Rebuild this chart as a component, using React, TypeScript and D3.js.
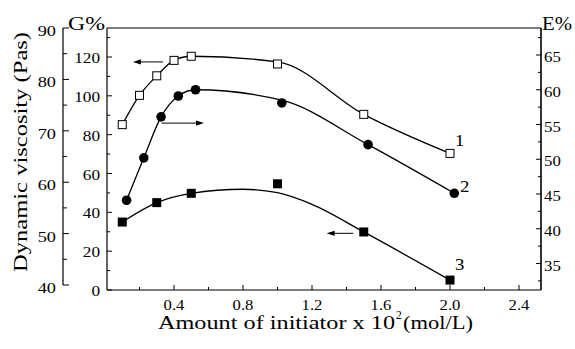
import React from "react";
import * as d3 from "d3";

// Amount of initiator (x 10^2 mol/L)
const amount = [0.1, 0.2, 0.3, 0.4, 0.5, 1.0, 1.5, 2.0];
const amountE = [0.125, 0.225, 0.325, 0.425, 0.525, 1.025, 1.525, 2.025];
const amount3 = [0.1, 0.3, 0.5, 1.0, 1.5, 2.0];

// Series 1: dynamic viscosity (Pas)
const viscosity = [71.2, 76.9, 80.7, 83.7, 84.5, 83.0, 73.2, 65.6];
// Series 2: grafting efficiency E%
const efficiency = [44.1, 50.2, 56.1, 59.1, 60.0, 58.1, 52.1, 45.1];
// Series 3: grafting percentage G%
const grafting = [35.0, 45.0, 49.8, 54.7, 29.9, 5.1];

// Smoothed trend lines [x, y]
const fitViscosity: [number, number][] = [
  [0.1, 71.2], [0.2, 76.9], [0.3, 80.7], [0.4, 83.7], [0.5, 84.5],
  [1.0, 83.4], [1.5, 73.2], [2.0, 65.6],
];
const fitEfficiency: [number, number][] = [
  [0.125, 44.1], [0.225, 50.2], [0.325, 56.1], [0.425, 59.1], [0.525, 60.0],
  [1.025, 58.5], [1.525, 52.1], [2.025, 45.1],
];
const fitGrafting: [number, number][] = [
  [0.1, 35.0], [0.3, 45.0], [0.5, 49.8], [0.8, 51.9], [1.0, 50.1],
  [1.2, 44.1], [1.5, 29.9], [2.0, 5.1],
];

const xTicks = [0.4, 0.8, 1.2, 1.6, 2.0, 2.4];
const xMinor = [0.2, 0.6, 1.0, 1.4, 1.8, 2.2];
const vTicks = [40, 50, 60, 70, 80, 90];
const vMinor = [45, 55, 65, 75, 85];
const gTicks = [0, 20, 40, 60, 80, 100, 120];
const gMinor = [10, 30, 50, 70, 90, 110, 130];
const eTicks = [35, 40, 45, 50, 55, 60, 65];
const eMinor = [32.5, 37.5, 42.5, 47.5, 52.5, 57.5, 62.5, 67.5];

const W = 575;
const H = 349;
const L = 107;
const R = 541;
const T = 28;
const B = 290;
const VX = 63;
const FONT = '"Liberation Serif", "Times New Roman", Times, serif';

const x = d3.scaleLinear().domain([0, 2.4]).range([105, 519]);
const yV = d3.scaleLinear().domain([40, 90]).range([285, 28]);
const yG = d3.scaleLinear().domain([0, 120]).range([290, 57]);
const yE = d3.scaleLinear().domain([35, 65]).range([263.5, 55]);

const curve = d3.curveMonotoneX;

type TxtProps = {
  x: number;
  y: number;
  size: number;
  sx?: number;
  anchor?: "start" | "middle" | "end";
  children: React.ReactNode;
};

// Text drawn with a horizontal stretch, as the typeface in this figure is wide
function Txt({ x, y, size, sx = 1.15, anchor = "start", children }: TxtProps) {
  return (
    <text
      transform={`translate(${x},${y}) scale(${sx},1)`}
      textAnchor={anchor}
      fontSize={size}
      style={{ fontFamily: FONT }}
      fill="#000"
    >
      {children}
    </text>
  );
}

function Arrow({ x1, x2, y }: { x1: number; x2: number; y: number }) {
  const dir = x2 > x1 ? 1 : -1;
  const hl = 8;
  const hw = 2.6;
  return (
    <g>
      <line x1={x1} y1={y} x2={x2 - dir * hl} y2={y} stroke="#000" strokeWidth={1} />
      <path
        d={`M${x2},${y} L${x2 - dir * hl},${y - hw} L${x2 - dir * hl},${y + hw} Z`}
        fill="#000"
      />
    </g>
  );
}

export default function App() {
  const lineV = d3.line<[number, number]>().x((d) => x(d[0])).y((d) => yV(d[1])).curve(curve);
  const lineE = d3.line<[number, number]>().x((d) => x(d[0])).y((d) => yE(d[1])).curve(curve);
  const lineG = d3.line<[number, number]>().x((d) => x(d[0])).y((d) => yG(d[1])).curve(curve);
  const sq = 8;

  return (
    <svg
      width={W}
      height={H}
      style={{ position: "absolute", left: 0, top: 0, background: "#fff", fontFamily: FONT }}
    >
      <rect width={W} height={H} fill="#fff" />

      {/* frame */}
      <g stroke="#000" strokeWidth={1.2} fill="none">
        <line x1={L} y1={T} x2={R} y2={T} />
        <line x1={L} y1={T} x2={L} y2={B} />
        <line x1={L} y1={B} x2={R} y2={B} />
        <line x1={R} y1={T} x2={R} y2={B} strokeWidth={1.6} />
        <line x1={VX} y1={yV(90)} x2={VX} y2={yV(40)} />
      </g>

      {/* x axis */}
      {xTicks.map((t) => (
        <g key={"xt" + t}>
          <line x1={x(t)} x2={x(t)} y1={B} y2={B - 5} stroke="#000" />
          <Txt x={x(t)} y={309.5} size={14.5} anchor="middle">
            {t.toFixed(1)}
          </Txt>
        </g>
      ))}
      {xMinor.map((t) => (
        <line key={"xm" + t} x1={x(t)} x2={x(t)} y1={B} y2={B - 3} stroke="#000" />
      ))}
      <text x={158} y={329} fontSize={18} textLength={237} lengthAdjust="spacingAndGlyphs" style={{ fontFamily: FONT }}>
        Amount of initiator x 10
      </text>
      <text x={396} y={319} fontSize={11.5} style={{ fontFamily: FONT }}>2</text>
      <text x={403} y={329} fontSize={18} textLength={70} lengthAdjust="spacingAndGlyphs" style={{ fontFamily: FONT }}>
        (mol/L)
      </text>

      {/* viscosity axis */}
      {vTicks.map((t) => (
        <g key={"vt" + t}>
          <line x1={VX} x2={VX + 6} y1={yV(t)} y2={yV(t)} stroke="#000" />
          <Txt x={56} y={yV(t) + 8} size={15} sx={1.22} anchor="end">
            {t}
          </Txt>
        </g>
      ))}
      {vMinor.map((t) => (
        <line key={"vm" + t} x1={VX} x2={VX + 4} y1={yV(t)} y2={yV(t)} stroke="#000" />
      ))}
      <text
        transform={`translate(27,152) rotate(-90)`}
        textAnchor="middle"
        fontSize={19.5}
        textLength={240}
        lengthAdjust="spacingAndGlyphs"
        style={{ fontFamily: FONT }}
      >
        Dynamic viscosity (Pas)
      </text>

      {/* G% axis */}
      {gTicks.map((t) => (
        <g key={"gt" + t}>
          <line x1={L} x2={L + 5} y1={yG(t)} y2={yG(t)} stroke="#000" />
          <Txt x={100} y={yG(t) + 6} size={15} anchor="end">
            {t}
          </Txt>
        </g>
      ))}
      {gMinor.map((t) => (
        <line key={"gm" + t} x1={L} x2={L + 3} y1={yG(t)} y2={yG(t)} stroke="#000" />
      ))}
      <text x={68} y={30} fontSize={19} textLength={37} lengthAdjust="spacingAndGlyphs" style={{ fontFamily: FONT }}>
        G%
      </text>

      {/* E% axis */}
      {eTicks.map((t) => (
        <g key={"et" + t}>
          <line x1={R} x2={R - 5} y1={yE(t)} y2={yE(t)} stroke="#000" />
          <Txt x={544} y={yE(t) + 7} size={15} sx={1.12}>
            {t}
          </Txt>
        </g>
      ))}
      {eMinor.map((t) => (
        <line key={"em" + t} x1={R} x2={R - 3} y1={yE(t)} y2={yE(t)} stroke="#000" />
      ))}
      <text x={542} y={30} fontSize={19} textLength={30} lengthAdjust="spacingAndGlyphs" style={{ fontFamily: FONT }}>
        E%
      </text>

      {/* trend lines */}
      <path d={lineV(fitViscosity) ?? ""} fill="none" stroke="#000" strokeWidth={1.3} />
      <path d={lineE(fitEfficiency) ?? ""} fill="none" stroke="#000" strokeWidth={1.3} />
      <path d={lineG(fitGrafting) ?? ""} fill="none" stroke="#000" strokeWidth={1.3} />

      {/* series 1: open squares */}
      {amount.map((a, i) => (
        <rect
          key={"s1" + i}
          x={x(a) - sq / 2}
          y={yV(viscosity[i]) - sq / 2}
          width={sq}
          height={sq}
          fill="#fff"
          stroke="#000"
          strokeWidth={1}
        />
      ))}
      {/* series 2: filled circles */}
      {amountE.map((a, i) => (
        <circle key={"s2" + i} cx={x(a)} cy={yE(efficiency[i])} r={4.8} fill="#000" />
      ))}
      {/* series 3: filled squares */}
      {amount3.map((a, i) => (
        <rect
          key={"s3" + i}
          x={x(a) - 4.5}
          y={yG(grafting[i]) - 4.5}
          width={9}
          height={9}
          fill="#000"
        />
      ))}

      {/* axis pointers */}
      <Arrow x1={x(0.336)} x2={x(0.162)} y={yV(83.4)} />
      <Arrow x1={x(0.328)} x2={x(0.574)} y={yE(55.2)} />
      <Arrow x1={x(1.439)} x2={x(1.285)} y={yG(29.2)} />

      {/* series labels */}
      <Txt x={455} y={146} size={17} sx={1.1}>1</Txt>
      <Txt x={460} y={192} size={17} sx={1.1}>2</Txt>
      <Txt x={455} y={270} size={17} sx={1.1}>3</Txt>
    </svg>
  );
}
